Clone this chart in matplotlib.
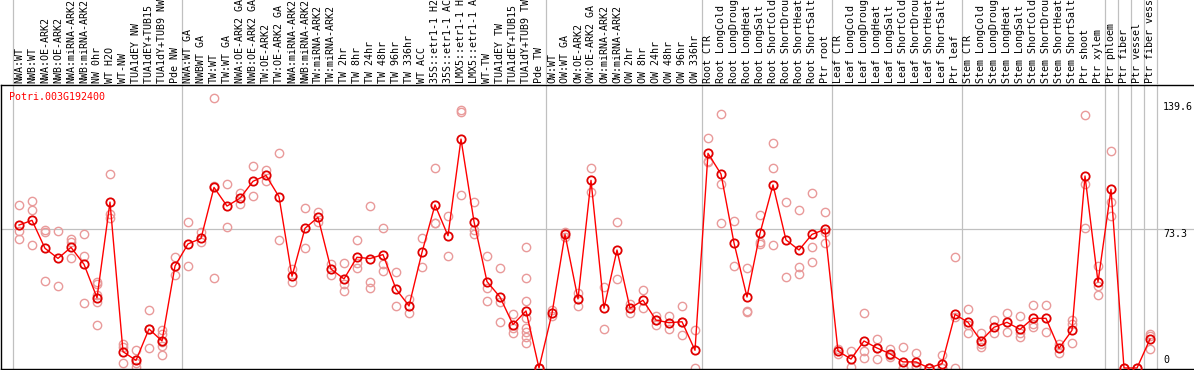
import matplotlib
matplotlib.use('Agg')
import matplotlib.pyplot as plt
import numpy as np

gene = 'Potri.003G192400'

samples = [
    'NWA:WT', 'NWB:WT', 'NWA:OE-ARK2', 'NWB:OE-ARK2', 'NWA:miRNA-ARK2', 'NWB:miRNA-ARK2',
    'NW 0hr', 'WT H2O', 'WT-NW', 'TUA1dEY NW', 'TUA1dEY+TUB15 NW', 'TUA1dY+TUB9 NW', 'Pde NW',
    'NWA:WT GA', 'NWBWT GA', 'TW:WT', 'TW:WT GA', 'NWA:OE-ARK2 GA', 'NWB:OE-ARK2 GA',
    'TW:OE-ARK2', 'TW:OE-ARK2 GA', 'NWA:miRNA-ARK2', 'NWB:miRNA-ARK2', 'TW:miRNA-ARK2',
    'TW:miRNA-ARK2', 'TW 2hr', 'TW 8hr', 'TW 24hr', 'TW 48hr', 'TW 96hr', 'TW 336hr',
    'WT ACC', '35S::etr1-1 H2O', '35S::etr1-1 ACC', 'LMX5::etr1-1 H2O', 'LMX5::etr1-1 ACC',
    'WT-TW', 'TUA1dEY TW', 'TUA1dEY+TUB15 TW', 'TUA1dY+TUB9 TW', 'Pde TW',
    'OW:WT', 'OW:WT GA', 'OW:OE-ARK2', 'OW:OE-ARK2 GA', 'OW:miRNA-ARK2', 'OW:miRNA-ARK2',
    'OW 2hr', 'OW 8hr', 'OW 24hr', 'OW 48hr', 'OW 96hr', 'OW 336hr',
    'Root CTR', 'Root LongCold', 'Root LongDrought', 'Root LongHeat', 'Root LongSalt',
    'Root ShortCold', 'Root ShortDrought', 'Root ShortHeat', 'Root ShortSalt', 'Ptr root',
    'Leaf CTR', 'Leaf LongCold', 'Leaf LongDrought', 'Leaf LongHeat', 'Leaf LongSalt',
    'Leaf ShortCold', 'Leaf ShortDrought', 'Leaf ShortHeat', 'Leaf ShortSalt', 'Ptr leaf',
    'Stem CTR', 'Stem LongCold', 'Stem LongDrought', 'Stem LongHeat', 'Stem LongSalt',
    'Stem ShortCold', 'Stem ShortDrought', 'Stem ShortHeat', 'Stem ShortSalt', 'Ptr shoot',
    'Ptr xylem', 'Ptr phloem', 'Ptr fiber', 'Ptr vessel', 'Ptr fiber vessel',
]

means = [
    75.1, 77.6, 62.9, 57.6, 63.4, 54.5, 36.9, 87.2, 8.6, 4.0, 20.5, 14.2, 53.6,
    65.2, 68.1, 94.9, 85.1, 89.2, 98.1, 101.2, 90.0, 48.2, 73.4, 79.2, 52.0, 46.8,
    58.2, 57.5, 59.6, 41.5, 32.6, 60.8, 85.7, 69.5, 120.3, 76.9, 45.4, 37.3, 22.8,
    30.0, 0.0,
    28.7, 70.2, 36.3, 98.6, 31.4, 62.0, 31.4, 35.6, 25.2, 23.8, 24.3, 9.3,
    112.8, 101.9, 65.7, 37.3, 70.8, 96.2, 67.3, 62.0, 70.2, 72.9,
    8.9, 4.7, 14.2, 10.5, 7.5, 3.2, 3.2, 0.0, 2.3, 28.2,
    24.0, 14.2, 21.4, 24.0, 20.3, 26.1, 26.1, 10.3, 19.8, 100.9, 45.2,
    93.9, 0.0, 0.0, 15.2,
]

replicates = [
    [85.7, 72.0, 67.8], [87.5, 82.9, 64.6], [72.3, 71.3, 45.7], [72.0, 42.9],
    [67.8, 66.0, 57.8], [70.4, 58.7, 34.0], [45.4, 44.0, 38.4, 34.5, 22.6],
    [101.9, 80.8, 79.0], [12.4, 11.0, 2.5], [9.3, 2.5, 0.3], [30.5, 20.5, 10.3],
    [19.9, 18.1, 13.4, 11.6, 6.8], [58.2, 48.9],
    [76.7, 53.6], [71.6, 66.0], [141.7, 95.9, 47.5], [96.5, 73.9], [91.8, 86.4],
    [106.0, 90.4], [104.2, 98.3], [112.8, 67.3], [52.0, 45.0], [83.9, 63.1],
    [82.1, 76.8], [54.7, 48.9], [55.2, 44.0, 40.5], [67.1, 55.2, 52.7],
    [85.1, 45.4, 41.9], [73.4, 54.5, 51.0], [50.6, 32.6], [36.1, 29.1],
    [68.1, 53.2], [104.9, 76.2, 76.0], [80.1, 58.7], [135.6, 134.7, 90.7],
    [87.2, 72.3, 70.4], [58.7, 41.9, 35.2], [52.4, 34.9, 24.0], [28.4, 21.2, 18.2],
    [63.4, 47.1, 35.0, 26.1, 21.2, 19.1, 16.5, 13.0], [0.0, 0.0],
    [30.5, 27.5], [71.6, 68.8], [39.2, 32.8], [104.9, 92.7], [42.6, 20.3],
    [76.6, 46.8], [33.6, 28.7], [40.8, 31.7], [27.5, 25.0, 22.6], [27.5, 20.3],
    [32.6, 24.0, 17.3], [19.9, 0.0],
    [120.7, 108.8, 108.0], [133.3, 96.5, 76.2], [77.2, 53.4], [52.4, 30.0, 29.3],
    [80.4, 66.0, 65.0], [118.1, 104.9, 64.6], [87.1, 47.8], [82.9, 53.1, 49.2],
    [92.0, 63.4, 55.7], [82.0, 71.6, 65.5],
    [10.2, 7.6], [8.9, 0.3], [28.7, 9.0, 5.4], [15.2, 10.5, 4.6], [9.8, 7.0, 6.0],
    [11.0, 0.0, 0.0], [7.9, 0.8, 0.3], [0.0, 0.0], [7.0, 0.0, 0.0], [58.3, 26.6, 0.0],
    [31.0, 22.6, 18.2], [18.2, 12.4, 11.2], [25.0, 18.2], [28.7, 19.1],
    [27.3, 18.2, 16.1], [33.1, 23.0, 21.7], [33.1, 18.7], [12.4, 7.7],
    [25.0, 23.0, 13.3], [132.9, 96.5, 73.7], [53.6, 42.9, 38.4],
    [114.0, 87.1, 79.9], [0.0], [0.0], [17.7, 16.9, 9.8],
]

# group boundaries (index of first sample after each separator)
group_starts = [0, 13, 41, 53, 63, 73, 84, 85, 86, 87, 88]
yticks = [139.6, 73.3, 0]

W, H = 1194, 370
fig = plt.figure(figsize=(W / 100, H / 100), dpi=100)

# pixel layout
left_px, right_px, top_px, bot_px = 1, 1200, 85, 369
x0_px, step_px = 19, 13
zero_px, ypx = 368, 1.903

ax = fig.add_axes([left_px / W, 1 - bot_px / H, (right_px - left_px) / W, (bot_px - top_px) / H])
axh = fig.add_axes([left_px / W, 1 - top_px / H, (right_px - left_px) / W, top_px / H])

xlim = ((left_px - x0_px) / step_px, (right_px - x0_px) / step_px)
ax.set_xlim(xlim)
ax.set_ylim((zero_px - bot_px) / ypx, (zero_px - top_px) / ypx)
axh.set_xlim(xlim)
axh.set_ylim(0, 1)
axh.axis('off')

x = np.arange(len(samples))
sep = [g - 0.5 for g in group_starts]
for s in sep:
    ax.axvline(s, color='#c0c0c0', lw=0.9, zorder=0)
    axh.axvline(s, color='#c0c0c0', lw=0.9, zorder=0)
ax.axhline(73.3, color='#c0c0c0', lw=0.9, zorder=0)

for i, reps in enumerate(replicates):
    ax.plot([i] * len(reps), reps, 'o', mfc='none', mec='#e99a9a', ms=6, mew=1.0, zorder=2)

ax.plot(x, means, '-', color='#ff0000', lw=1.0, zorder=3)
ax.plot(x, means, 'o', mfc='none', mec='#e00000', ms=6, mew=1.3, zorder=4)

ax.set_xticks([])
ax.set_yticks([])
ax.spines['right'].set_visible(False)
for sp in ['left', 'top', 'bottom']:
    ax.spines[sp].set_linewidth(1.0)
    ax.spines[sp].set_color('black')

mono = 'DejaVu Sans Mono'
for i, lab in enumerate(samples):
    axh.text(i, 2 / top_px, lab, rotation=90, ha='center', va='bottom',
             family=mono, fontsize=7.2, color='black')

fig.text(9.5 / W, 1 - 97 / H, gene, color='red', ha='left', va='center',
         family=mono, fontsize=7.2)

tx = (1163 - left_px) / (right_px - left_px)
ax.text(tx, 139.6, '139.6', transform=ax.get_yaxis_transform(), ha='left', va='top',
        family=mono, fontsize=7.2)
ax.text(tx, 73.3, '73.3', transform=ax.get_yaxis_transform(), ha='left', va='top',
        family=mono, fontsize=7.2)
ax.text(tx, 1.5, '0', transform=ax.get_yaxis_transform(), ha='left', va='bottom',
        family=mono, fontsize=7.2)

fig.savefig('out.png', dpi=100)
